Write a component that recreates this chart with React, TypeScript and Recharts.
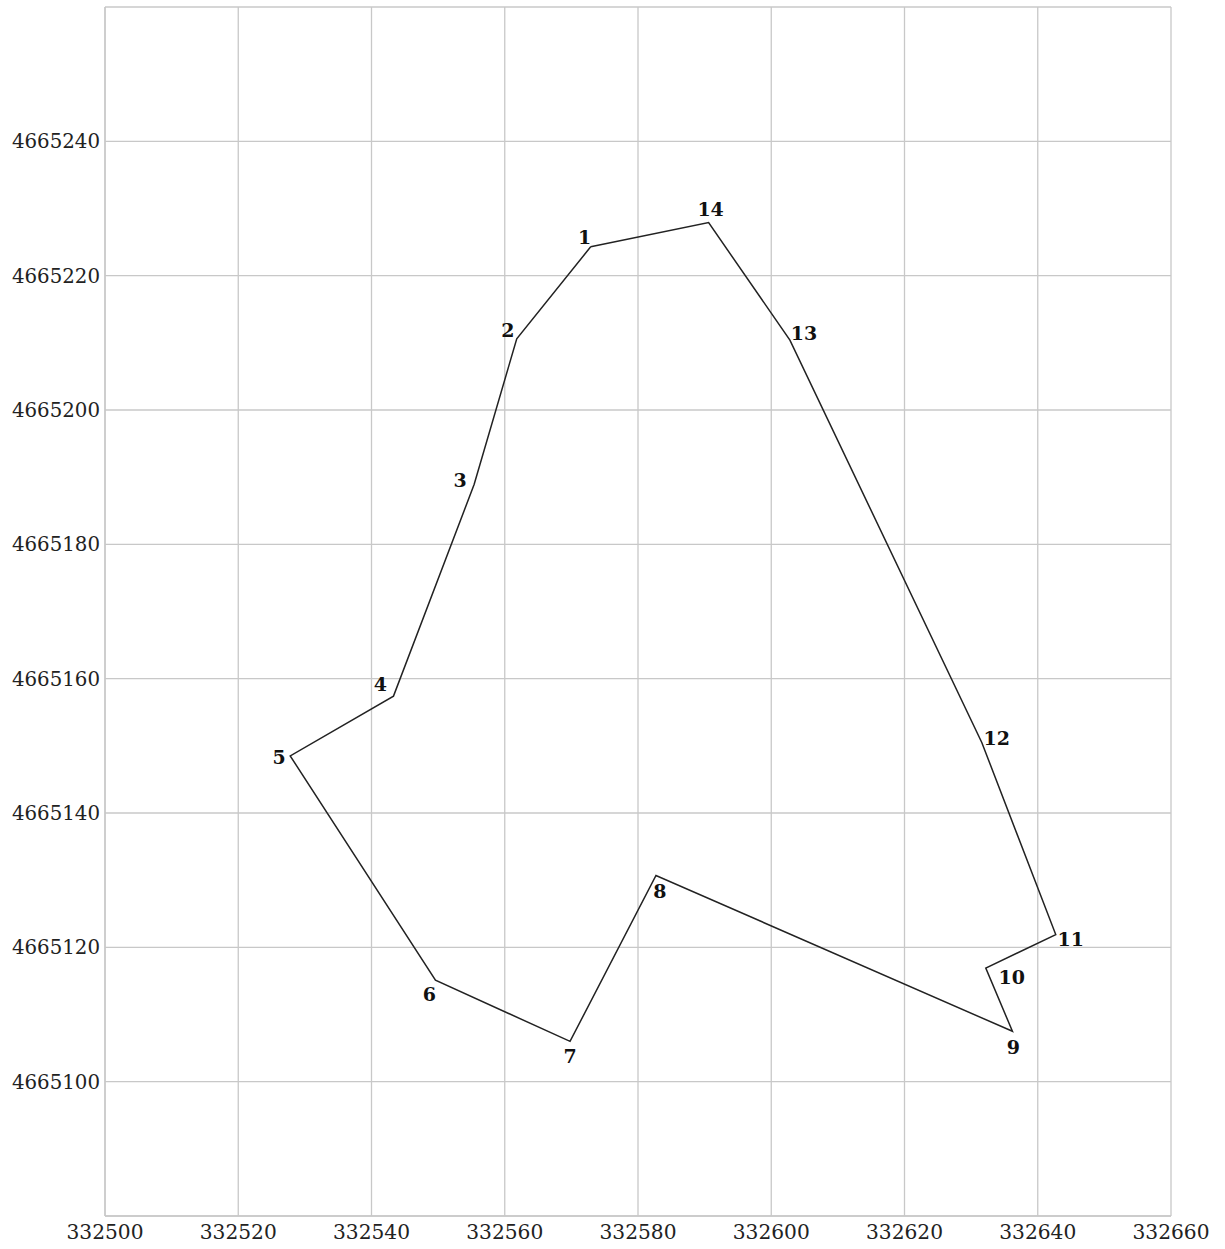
import React from 'react';
import { LineChart, Line, XAxis, YAxis, CartesianGrid, LabelList } from 'recharts';

// vertex numbers and coordinates, polygon order
const pointIds = [1, 2, 3, 4, 5, 6, 7, 8, 9, 10, 11, 12, 13, 14];
const eastings = [
  332572.9, 332561.8, 332555.4, 332543.3, 332527.8, 332549.6, 332569.8,
  332582.7, 332636.2, 332632.2, 332642.7, 332631.6, 332602.8, 332590.6,
];
const northings = [
  4665224.3, 4665210.6, 4665188.9, 4665157.4, 4665148.5, 4665115.1, 4665106.0,
  4665130.7, 4665107.5, 4665116.9, 4665121.9, 4665150.5, 4665210.4, 4665227.9,
];

const xTicks = [332500, 332520, 332540, 332560, 332580, 332600, 332620, 332640, 332660];
const yTicks = [
  4665080, 4665100, 4665120, 4665140, 4665160, 4665180, 4665200, 4665220, 4665240, 4665260,
];

// where each vertex number sits relative to its vertex (px)
const labelOffset: Record<number, [number, number]> = {
  1: [-6, -10],
  2: [-9, -9],
  3: [-14, -5],
  4: [-13, -12],
  5: [-11, 1],
  6: [-6, 14],
  7: [0, 15],
  8: [4, 16],
  9: [1, 16],
  10: [26, 9],
  11: [15, 4],
  12: [15, -4],
  13: [14, -7],
  14: [2, -14],
};

const rows = pointIds.map((id, i) => ({ id, x: eastings[i], y: northings[i] }));
// close the ring
const ring = [...rows, { ...rows[0], id: null as number | null }];

const YTick = (props: any) => {
  const { x, y, payload } = props;
  if (payload.value === yTicks[0] || payload.value === yTicks[yTicks.length - 1]) return null;
  return (
    <text x={x} y={y} dy="0.355em" textAnchor="end" fontFamily="DejaVu Serif" fontSize={19.8} fill="#222">
      {payload.value}
    </text>
  );
};

const XTick = (props: any) => {
  const { x, y, payload } = props;
  return (
    <text x={x} y={y} dy="0.71em" textAnchor="middle" fontFamily="DejaVu Serif" fontSize={20.2} fill="#222">
      {payload.value}
    </text>
  );
};

const VertexLabel = (props: any) => {
  const { x, y, value } = props;
  if (value == null) return null;
  const [dx, dy] = labelOffset[value] || [0, 0];
  return (
    <text
      x={x + dx}
      y={y + dy}
      textAnchor="middle"
      dominantBaseline="central"
      fontFamily="DejaVu Serif"
      fontWeight="bold"
      fontSize={19}
      fill="#111"
    >
      {value}
    </text>
  );
};

export default function App() {
  return (
    <div style={{ position: 'absolute', left: 0, top: 0 }}>
      <LineChart width={1225} height={1249} data={ring} margin={{ top: 7, right: 54, bottom: 0, left: 0 }}>
        <CartesianGrid stroke="#c8c8c8" strokeWidth={1.3} />
        <XAxis
          type="number"
          dataKey="x"
          domain={[332500, 332660]}
          ticks={xTicks}
          interval={0}
          allowDataOverflow
          tickLine={false}
          tickSize={0}
          tickMargin={9}
          height={33}
          axisLine={{ stroke: '#c8c8c8', strokeWidth: 1.3 }}
          tick={<XTick />}
        />
        <YAxis
          type="number"
          dataKey="y"
          domain={[4665080, 4665260]}
          ticks={yTicks}
          interval={0}
          allowDataOverflow
          tickLine={false}
          tickSize={0}
          tickMargin={5}
          width={105}
          axisLine={{ stroke: '#c8c8c8', strokeWidth: 1.3 }}
          tick={<YTick />}
        />
        <Line
          type="linear"
          dataKey="y"
          stroke="#222"
          strokeWidth={1.5}
          dot={false}
          activeDot={false}
          isAnimationActive={false}
        >
          <LabelList dataKey="id" content={<VertexLabel />} />
        </Line>
      </LineChart>
    </div>
  );
}
